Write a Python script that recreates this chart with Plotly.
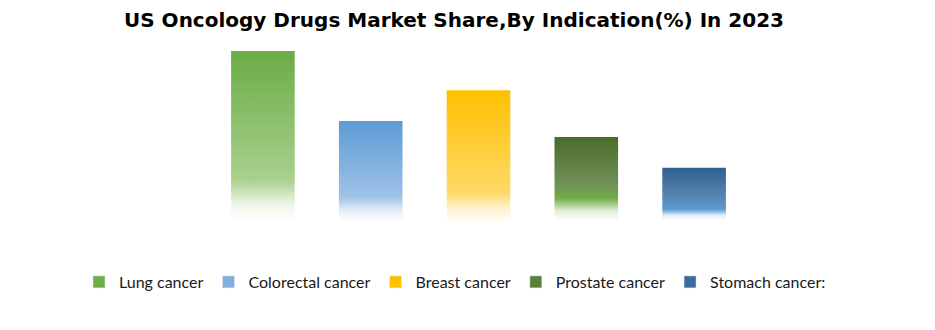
import plotly.graph_objects as go

categories = ["Lung cancer", "Colorectal cancer", "Breast cancer", "Prostate cancer", "Stomach cancer:"]
shares = [31.6, 18.6, 24.3, 15.6, 9.9]

# colour stops bottom (0) -> top (1)
gradients = [
    [[0, "#ffffff"], [0.1, "#eef5e8"], [0.24, "#a9d18e"], [1, "#6aac46"]],
    [[0, "#ffffff"], [0.1, "#e6eff9"], [0.24, "#9fc2e6"], [1, "#5b9bd5"]],
    [[0, "#fffdf6"], [0.1, "#fff1cc"], [0.22, "#ffd966"], [1, "#ffc000"]],
    [[0, "#ffffff"], [0.12, "#e3efdb"], [0.27, "#70ad47"], [0.45, "#6f8f57"], [1, "#4b6b2b"]],
    [[0, "#ffffff"], [0.1, "#e8f0fa"], [0.22, "#5b9bd5"], [0.5, "#5583ad"], [1, "#2e5f90"]],
]
legend_colors = ["#70ad47", "#7fb0e0", "#ffc000", "#5a7f3c", "#3a6b9c"]

W, H = 935, 330
ML, MR, MT, MB = 10, 10, 51, 109
plot_left, plot_right = 209, 748
pw = W - ML - MR
ph = H - MT - MB

half = 0.295
fig = go.Figure()
for i, (cat, v, cs) in enumerate(zip(categories, shares, gradients)):
    fig.add_trace(go.Scatter(
        x=[i - half, i + half, i + half, i - half, i - half],
        y=[0, 0, v, v, 0],
        mode="lines", line=dict(width=0), fill="toself",
        fillgradient=dict(type="vertical", colorscale=cs, start=0, stop=v),
        showlegend=False, hoverinfo="skip",
    ))
for cat, c in zip(categories, legend_colors):
    fig.add_trace(go.Bar(x=[None], y=[None], name=cat, marker_color=c))

fig.update_layout(
    width=W, height=H,
    margin=dict(l=ML, r=MR, t=MT, b=MB),
    paper_bgcolor="white", plot_bgcolor="white",
    title=dict(text="<b>US Oncology Drugs Market Share,By Indication(%) In 2023</b>",
               x=454 / W, xanchor="center", y=1 - 20 / H, yanchor="middle",
               font=dict(family="DejaVu Sans", size=20, color="#000000")),
    xaxis=dict(range=[-0.5, 4.5], visible=False, fixedrange=True,
               domain=[(plot_left - ML) / pw, (plot_right - ML) / pw]),
    yaxis=dict(range=[0, 31.6], visible=False, fixedrange=True),
    showlegend=True,
    legend=dict(orientation="h", x=(455 - ML) / pw, xanchor="center",
                y=-(282 - (H - MB)) / ph, yanchor="middle",
                font=dict(family="Lato", size=16, color="#1a1a1a"),
                itemwidth=30, tracegroupgap=0),
)
fig.write_html("out.html")
